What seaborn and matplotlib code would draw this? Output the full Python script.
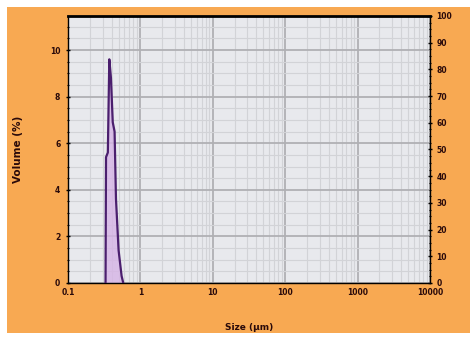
import numpy as np
import pandas as pd
import matplotlib
matplotlib.use("Agg")
import matplotlib.pyplot as plt
import seaborn as sns
from matplotlib.patches import Rectangle
from matplotlib.ticker import LogLocator, MultipleLocator, NullFormatter

# Data
sizes_um = [0.33, 0.335, 0.355, 0.372, 0.392, 0.415, 0.44, 0.46, 0.50, 0.55, 0.58]
volume_pct = [0.0, 5.4, 5.6, 9.6, 8.8, 6.9, 6.5, 3.6, 1.4, 0.3, 0.0]
x_ticks = [0.1, 1, 10, 100, 1000, 10000]
x_tick_labels = ["0.1", "1", "10", "100", "1000", "10000"]
y_ticks = [0, 2, 4, 6, 8, 10]
y2_ticks = [0, 10, 20, 30, 40, 50, 60, 70, 80, 90, 100]

df = pd.DataFrame({"size": sizes_um, "volume": volume_pct})

sns.set_theme(style="white")
plt.rcParams["font.family"] = ["DejaVu Sans"]

fig = plt.figure(figsize=(4.70, 3.38), dpi=100, facecolor="white")
bg = Rectangle((7 / 470, 1 - 333 / 338), 463 / 470, 326 / 338,
               transform=fig.transFigure, facecolor="#f8a952",
               edgecolor="none", zorder=-10)
fig.patches.append(bg)
ax = fig.add_axes([68 / 470, 1 - 283 / 338, 362 / 470, 267 / 338])
ax.set_facecolor("#e8e9ed")

ax.fill_between(df["size"], df["volume"], color="#d6b4e6", alpha=0.8, lw=0, zorder=2)
sns.lineplot(data=df, x="size", y="volume", ax=ax, color="#4b1f6e", lw=1.6,
             sort=False, zorder=3)

ax.set_xscale("log")
ax.set_xlim(0.1, 10000)
ax.set_ylim(0, 11.46)
ax.set_xticks(x_ticks)
ax.set_xticklabels(x_tick_labels)
ax.xaxis.set_minor_locator(LogLocator(base=10, subs=np.arange(2, 10)))
ax.xaxis.set_minor_formatter(NullFormatter())
ax.set_yticks(y_ticks)
ax.yaxis.set_minor_locator(MultipleLocator(0.5))

ax.grid(which="major", color="#b0b0b4", lw=1.3, zorder=1)
ax.grid(which="minor", color="#d2d3d7", lw=0.8, zorder=1)
ax.set_axisbelow(True)

for lbl in ax.get_xticklabels() + ax.get_yticklabels():
    lbl.set_fontweight("bold")
ax.tick_params(axis="both", which="major", labelsize=5.5, length=3, width=1,
               color="black", labelcolor="#2a0a0a", pad=2, direction="inout")
ax.tick_params(axis="both", which="minor", length=2, width=0.8, color="black",
               direction="inout")
ax.tick_params(axis="y", pad=4)

for s in ["left", "bottom", "right"]:
    ax.spines[s].set_color("black")
    ax.spines[s].set_linewidth(1.0)
ax.spines["top"].set_color("black")
ax.spines["top"].set_linewidth(2.0)

ax.set_xlabel("Size (µm)", fontsize=6.5, fontweight="bold", color="#2a0a0a", labelpad=19)
ax.set_ylabel("Volume (%)", fontsize=7.5, fontweight="bold", color="#2a0a0a", labelpad=19)

ax2 = ax.twinx()
ax2.set_ylim(0, 100)
ax2.set_yticks(y2_ticks)
ax2.yaxis.set_minor_locator(MultipleLocator(2.5))
ax2.tick_params(axis="y", which="major", labelsize=5.5, length=3, width=1,
                color="black", labelcolor="#2a0a0a", pad=3, direction="inout")
ax2.tick_params(axis="y", which="minor", length=2, width=0.8, color="black",
                direction="inout")
for lbl in ax2.get_yticklabels():
    lbl.set_fontweight("bold")
for s in ax2.spines.values():
    s.set_visible(False)
ax2.grid(False)

fig.savefig("out.png", dpi=100, facecolor="white")
